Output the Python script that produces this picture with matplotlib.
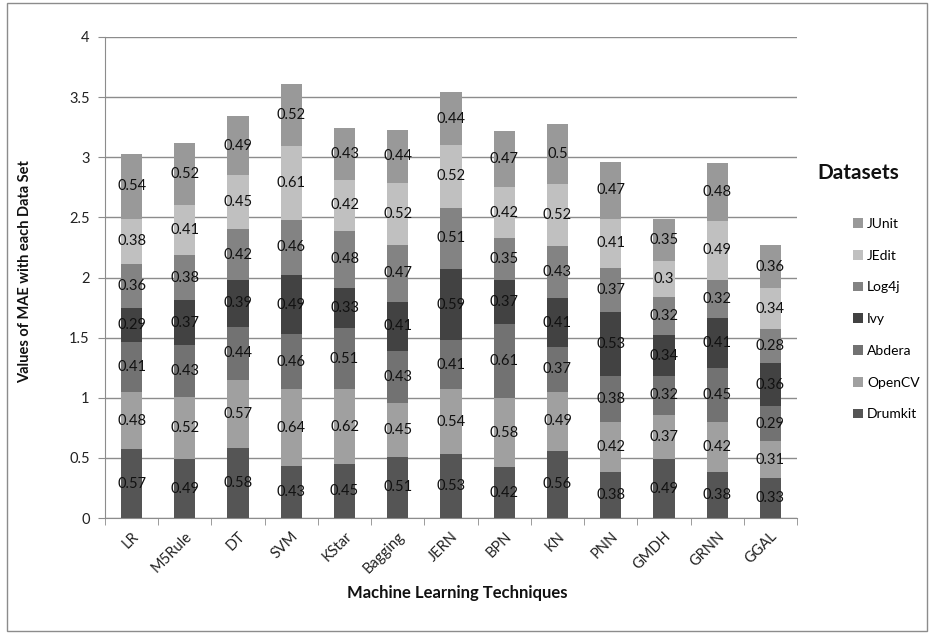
import matplotlib
matplotlib.use("Agg")
import matplotlib.pyplot as plt
from matplotlib.patches import Rectangle, Patch
import numpy as np

plt.rcParams['font.family'] = ['Lato', 'DejaVu Sans']

techniques = ["LR", "M5Rule", "DT", "SVM", "KStar", "Bagging", "JERN",
              "BPN", "KN", "PNN", "GMDH", "GRNN", "GGAL"]

drumkit = [0.57, 0.49, 0.58, 0.43, 0.45, 0.51, 0.53, 0.42, 0.56, 0.38, 0.49, 0.38, 0.33]
opencv  = [0.48, 0.52, 0.57, 0.64, 0.62, 0.45, 0.54, 0.58, 0.49, 0.42, 0.37, 0.42, 0.31]
abdera  = [0.41, 0.43, 0.44, 0.46, 0.51, 0.43, 0.41, 0.61, 0.37, 0.38, 0.32, 0.45, 0.29]
ivy     = [0.29, 0.37, 0.39, 0.49, 0.33, 0.41, 0.59, 0.37, 0.41, 0.53, 0.34, 0.41, 0.36]
log4j   = [0.36, 0.38, 0.42, 0.46, 0.48, 0.47, 0.51, 0.35, 0.43, 0.37, 0.32, 0.32, 0.28]
jedit   = [0.38, 0.41, 0.45, 0.61, 0.42, 0.52, 0.52, 0.42, 0.52, 0.41, 0.30, 0.49, 0.34]
junit   = [0.54, 0.52, 0.49, 0.52, 0.43, 0.44, 0.44, 0.47, 0.50, 0.47, 0.35, 0.48, 0.36]

series = [
    ("Drumkit", drumkit, "#555555"),
    ("OpenCV", opencv, "#a0a0a0"),
    ("Abdera", abdera, "#727272"),
    ("Ivy", ivy, "#424242"),
    ("Log4j", log4j, "#838383"),
    ("JEdit", jedit, "#c0c0c0"),
    ("JUnit", junit, "#999999"),
]

fig = plt.figure(figsize=(9.35, 6.39), dpi=100)
fig.patches.append(Rectangle((7 / 935, 1 - 631 / 639), 920 / 935, 628 / 639,
                             transform=fig.transFigure, fill=False,
                             edgecolor="#8c8c8c", linewidth=1.0))

ax = fig.add_axes([105 / 935, 1 - 518 / 639, 692 / 935, 481 / 639])

x = np.arange(len(techniques))
bottom = np.zeros(len(techniques))
handles = {}
for name, vals, col in series:
    vals = np.array(vals)
    bars = ax.bar(x, vals, width=0.4, bottom=bottom, color=col, zorder=3)
    ax.bar_label(bars, labels=[f"{v:g}" for v in vals], label_type="center",
                 fontsize=10.5, color="#111111", zorder=4)
    handles[name] = Patch(facecolor=col)
    bottom += vals

ax.set_xlim(-0.5, len(techniques) - 0.5)
ax.set_ylim(0, 4)
ax.set_yticks(np.arange(0, 4.01, 0.5))
ax.set_yticklabels([f"{v:g}" for v in np.arange(0, 4.01, 0.5)], fontsize=10.5, color="#222222")
ax.yaxis.grid(True, color="#8c8c8c", linewidth=1.0, zorder=0)
ax.set_axisbelow(True)

ax.set_xticks(x)
ax.set_xticklabels(techniques, rotation=45, ha="right", rotation_mode="anchor",
                   fontsize=10.5, color="#222222")
ax.set_xticks(np.arange(-0.5, len(techniques), 1.0), minor=True)
ax.tick_params(axis="x", which="major", length=0, pad=8)
ax.tick_params(axis="x", which="minor", length=5, color="#8c8c8c", direction="out")
ax.tick_params(axis="y", length=5, color="#8c8c8c", direction="out", pad=6)

for s in ["top", "right"]:
    ax.spines[s].set_visible(False)
for s in ["left", "bottom"]:
    ax.spines[s].set_color("#8c8c8c")

fig.text(25 / 935, 1 - 272 / 639, "Values of MAE with each Data Set", ha="center", va="center",
         rotation=90, fontsize=10.5, fontweight="bold", color="#111111")
fig.text(457 / 935, 1 - 593 / 639, "Machine Learning Techniques", ha="center", va="center",
         fontsize=12, fontweight="bold", color="#111111")

order = ["JUnit", "JEdit", "Log4j", "Ivy", "Abdera", "OpenCV", "Drumkit"]
fig.text(817 / 935, 1 - 173 / 639, "Datasets", ha="left", va="center",
         fontsize=15, fontweight="bold", color="#111111")
leg = fig.legend([handles[n] for n in order], order, loc="upper left",
                 bbox_to_anchor=(853 / 935, 1 - 218 / 639), frameon=False,
                 fontsize=10, handlelength=0.7, handleheight=0.7, handletextpad=0.3,
                 labelspacing=1.42, borderaxespad=0, borderpad=0)

fig.savefig("out.png", dpi=100)
